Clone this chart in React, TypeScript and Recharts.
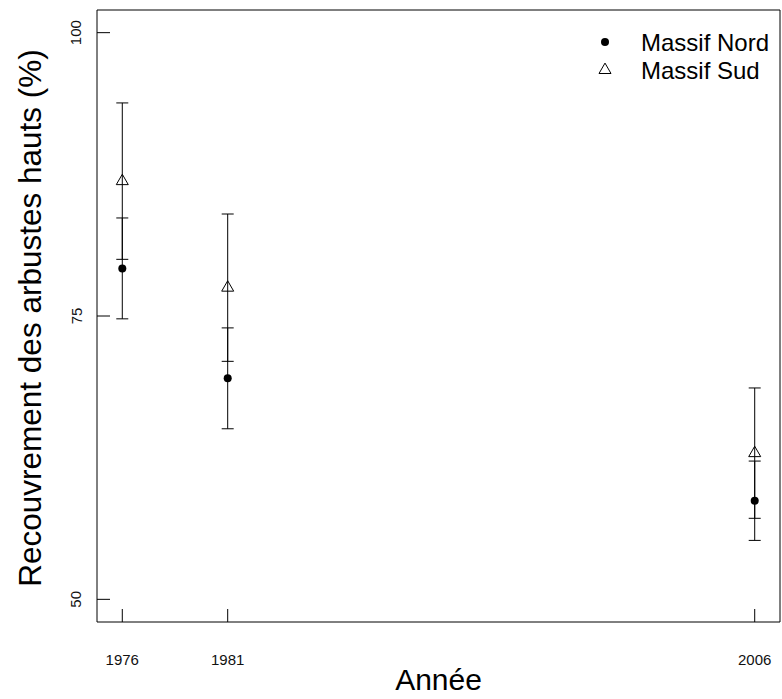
import React from 'react';
import { ComposedChart, Scatter, ErrorBar, XAxis, YAxis, Legend, Label } from 'recharts';

const years = [1976, 1981, 2006];
const nordMean = [79.2, 69.5, 58.7];
const nordSe = [4.45, 4.45, 3.5];
const sudMean = [86.9, 77.5, 62.9];
const sudSe = [6.9, 6.5, 5.75];
const yTicks = [50, 75, 100];
const seriesNames = ['Massif Nord', 'Massif Sud'];

const nordData = years.map((year, i) => ({ year, value: nordMean[i], se: nordSe[i] }));
const sudData = years.map((year, i) => ({ year, value: sudMean[i], se: sudSe[i] }));

const xDomain = [1974.8, 2007.2];
const yDomain = [48, 102];
const font = '"Liberation Sans", Arial, sans-serif';

const W = 782;
const H = 699;
const margin = { top: 10, right: 2, bottom: 7, left: 37 };
const Y_AXIS_W = 60;
const X_AXIS_H = 70;
const PLOT_LEFT = margin.left + Y_AXIS_W;
const PLOT_BOTTOM = H - margin.bottom - X_AXIS_H;
const TICK_LEN = 13; // R draws the ticks inside the box

const Dot = (props: any) => <circle cx={props.cx} cy={props.cy} r={4} fill="#000" />;

const Tri = (props: any) => {
  const { cx, cy } = props;
  return (
    <polygon
      points={`${cx},${cy - 6.9} ${cx - 6},${cy + 3.5} ${cx + 6},${cy + 3.5}`}
      fill="none"
      stroke="#000"
      strokeWidth={1}
    />
  );
};

const XTick = ({ x, payload }: any) => {
  const cx = payload.coordinate ?? x;
  return (
    <g>
      <line x1={cx} x2={cx} y1={PLOT_BOTTOM} y2={PLOT_BOTTOM - TICK_LEN} stroke="#000" />
      <text x={cx} y={PLOT_BOTTOM + 32} dy="0.71em" textAnchor="middle" fontSize={15} fill="#111" fontFamily={font}>
        {payload.value}
      </text>
    </g>
  );
};

const YTick = ({ y, payload }: any) => {
  const cy = payload.coordinate ?? y;
  const tx = PLOT_LEFT - 15.5;
  return (
    <g>
      <line x1={PLOT_LEFT} x2={PLOT_LEFT + TICK_LEN} y1={cy} y2={cy} stroke="#000" />
      <text x={tx} y={cy} transform={`rotate(-90, ${tx}, ${cy})`} textAnchor="middle" fontSize={15} fill="#111" fontFamily={font}>
        {payload.value}
      </text>
    </g>
  );
};

const LegendBox = () => (
  <svg width={190} height={60} style={{ fontFamily: font }}>
    <circle cx={13} cy={17} r={4} fill="#000" />
    <text x={49} y={25.5} fontSize={24} fill="#000">{seriesNames[0]}</text>
    <polygon points="13,38.1 7,48.5 19,48.5" fill="none" stroke="#000" />
    <text x={49} y={53.5} fontSize={24} fill="#000">{seriesNames[1]}</text>
  </svg>
);

const App = () => {
  return (
    <div style={{ position: 'absolute', left: 0, top: 0, width: W, height: H, background: '#fff' }}>
      <ComposedChart width={W} height={H} margin={margin}>
        <XAxis
          dataKey="year"
          type="number"
          domain={xDomain}
          ticks={years}
          allowDataOverflow
          height={X_AXIS_H}
          tickLine={false}
          tick={<XTick />}
          stroke="#000"
        >
          <Label
            content={({ viewBox }: any) => (
              <text x={viewBox.x + viewBox.width / 2} y={690} textAnchor="middle" fontSize={30} fill="#000" fontFamily={font}>
                Année
              </text>
            )}
          />
        </XAxis>
        <XAxis xAxisId="top" orientation="top" type="number" domain={xDomain} allowDataOverflow mirror tick={false} tickLine={false} stroke="#000" />
        <YAxis
          type="number"
          domain={yDomain}
          ticks={yTicks}
          allowDataOverflow
          width={Y_AXIS_W}
          tickLine={false}
          tick={<YTick />}
          stroke="#000"
        >
          <Label
            content={({ viewBox }: any) => {
              const cy = viewBox.y + viewBox.height / 2 + 2;
              return (
                <text x={41} y={cy} transform={`rotate(-90, 41, ${cy})`} textAnchor="middle" fontSize={31.5} fill="#000" fontFamily={font}>
                  Recouvrement des arbustes hauts (%)
                </text>
              );
            }}
          />
        </YAxis>
        <YAxis yAxisId="right" orientation="right" type="number" domain={yDomain} allowDataOverflow mirror tick={false} tickLine={false} stroke="#000" />
        <Legend
          layout="horizontal"
          verticalAlign="middle"
          align="center"
          content={<LegendBox />}
          wrapperStyle={{ top: 25, left: 592, width: 190, height: 60 }}
        />
        <Scatter name={seriesNames[0]} data={nordData} dataKey="value" shape={<Dot />} isAnimationActive={false}>
          <ErrorBar dataKey="se" direction="y" width={6} stroke="#000" strokeWidth={1} isAnimationActive={false} />
        </Scatter>
        <Scatter name={seriesNames[1]} data={sudData} dataKey="value" shape={<Tri />} isAnimationActive={false}>
          <ErrorBar dataKey="se" direction="y" width={6} stroke="#000" strokeWidth={1} isAnimationActive={false} />
        </Scatter>
      </ComposedChart>
    </div>
  );
};

export default App;
